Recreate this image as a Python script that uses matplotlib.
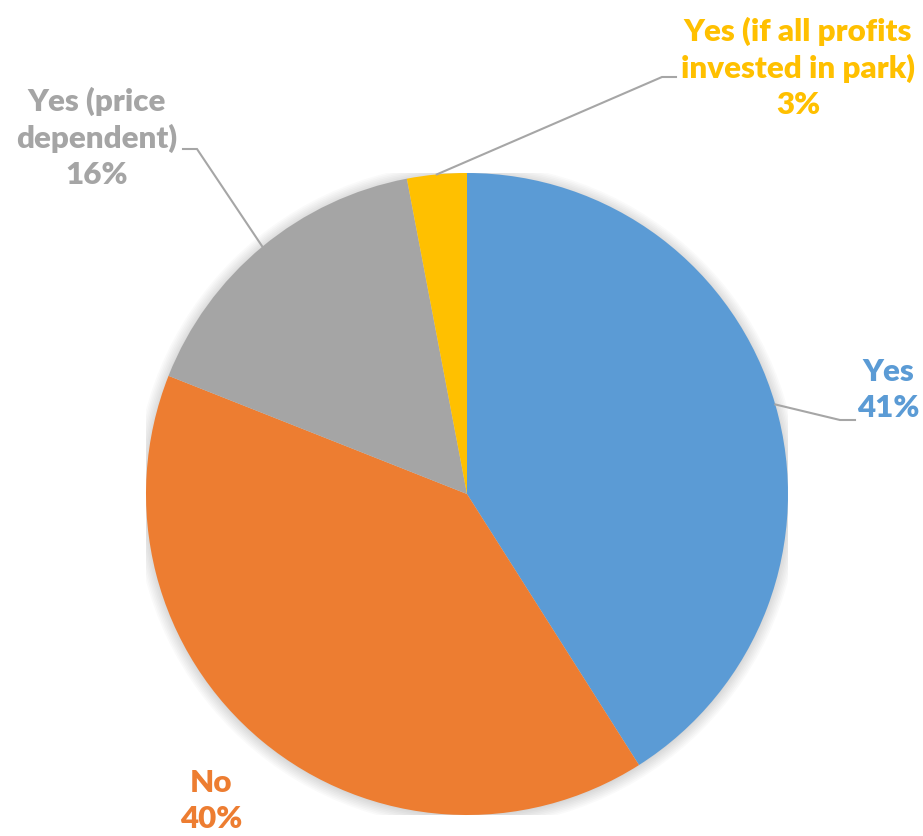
import matplotlib.pyplot as plt
import numpy as np

# survey answers, clockwise from 12 o'clock
labels = ['Yes', 'No', 'Yes (price\ndependent)', 'Yes (if all profits\ninvested in park)']
shares = [41, 40, 16, 3]
colors = ['#5B9BD5', '#ED7D31', '#A5A5A5', '#FFC000']

plt.rcParams['font.family'] = ['Lato', 'DejaVu Sans']

W, H = 923, 836
cx, cy, R = 467, 494, 321  # pie centre / radius in pixels

fig = plt.figure(figsize=(W / 100, H / 100), dpi=100)
ax = fig.add_axes([(cx - R) / W, (H - cy - R) / H, 2 * R / W, 2 * R / H])


def px(x, y):
    # pixel position -> pie data units
    return (x - cx) / R, (cy - y) / R


# soft shadow around the pie
for r in np.linspace(1.035, 1.0, 8):
    ax.add_patch(plt.Circle((0.0, -0.004), r, color='black', alpha=0.018, lw=0, zorder=0))

wedges, _ = ax.pie(shares, colors=colors, startangle=90, counterclock=False,
                   radius=1.0, wedgeprops=dict(linewidth=0))
ax.set_xlim(-1, 1)
ax.set_ylim(-1, 1)
ax.set_aspect('equal')
ax.axis('off')

# label text centres (pixels) and leader elbows
text_pos = [(888, 390), (211, 801), (97, 138), (798, 68)]
elbows = [((840, 420), (855, 420)), None, ((197, 149), (183, 149)), ((662, 77), (676, 77))]

for w, lab, val, col, tp, el in zip(wedges, labels, shares, colors, text_pos, elbows):
    tx, ty = px(*tp)
    ax.text(tx, ty, f'{lab}\n{val}%', ha='center', va='center', color=col,
            fontsize=22.5, fontweight='heavy', linespacing=1.33, clip_on=False)
    if el is None:
        continue
    mid = np.deg2rad((w.theta1 + w.theta2) / 2)
    (ex, ey), (hx, hy) = px(*el[0]), px(*el[1])
    ax.plot([np.cos(mid), ex, hx], [np.sin(mid), ey, hy], color='#A6A6A6',
            lw=1.5, clip_on=False, solid_joinstyle='miter')

fig.savefig('out.png', dpi=100, facecolor='white')
